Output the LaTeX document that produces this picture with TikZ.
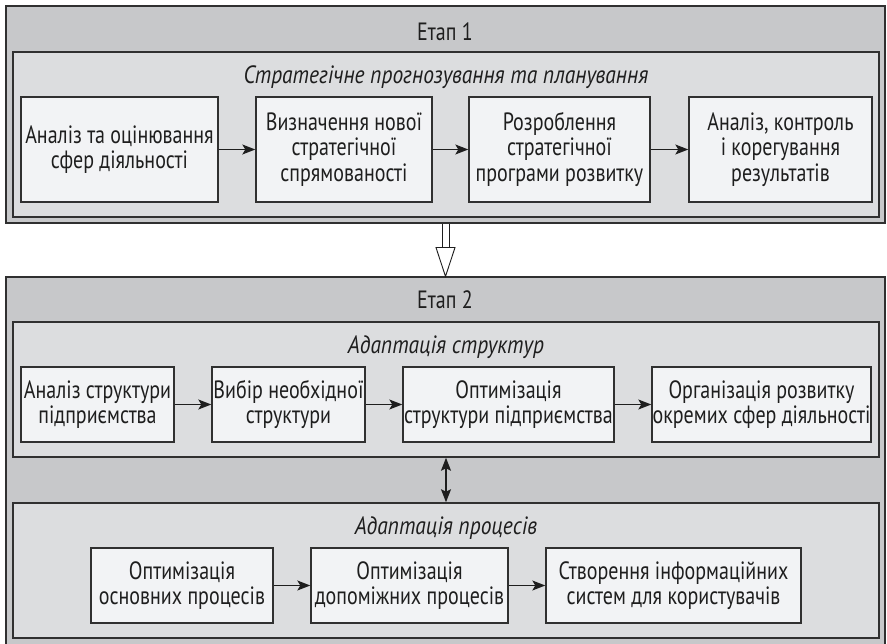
\documentclass[tikz,border=0pt]{standalone}
\usepackage{fontspec}
\setmainfont[FakeStretch=0.8, ItalicFeatures={FakeStretch=0.86}]{PT Sans}
\usetikzlibrary{arrows.meta,calc}

\definecolor{stagefill}{HTML}{C7C8CA}
\definecolor{groupfill}{HTML}{DCDDDF}
\definecolor{stepfill}{HTML}{F2F3F5}
\definecolor{edge}{HTML}{303030}
\definecolor{ink}{HTML}{1E1E1E}

\tikzset{
  stage/.style={draw=edge, line width=1.1pt, fill=stagefill, inner sep=0pt},
  group/.style={draw=edge, line width=1.5pt, fill=groupfill, inner sep=0pt},
  stepbox/.style={draw=edge, line width=1.4pt, fill=stepfill, align=center,
    inner sep=0pt, text=ink, font=\fontsize{25}{25.5}\selectfont},
  heading/.style={text=ink, font=\fontsize{25}{25}\selectfont},
  subheading/.style={text=ink, font=\fontsize{25}{25}\selectfont\itshape},
  flow/.style={-{Stealth[length=13pt,width=10pt,inset=3pt]}, line width=1.2pt, draw=ink},
  link/.style={{Stealth[length=13pt,width=10pt,inset=2.5pt]}-{Stealth[length=13pt,width=10pt,inset=2.5pt]},
    line width=1.3pt, draw=ink},
}

\begin{document}
\begin{tikzpicture}[x=1pt,y=-1pt]
\useasboundingbox (0,0) rectangle (887,644);

% Stage 1
\node[stage, minimum width=879pt, minimum height=217pt] (e1) at (445.5,114.5) {};
\node[heading] (e1t) at (445,32) {Етап 1};
\node[group, minimum width=866pt, minimum height=165pt] (g1) at (446,134.5) {};
\node[subheading] (g1t) at (446,77) {Стратегічне прогнозування та планування};

\node[stepbox, minimum width=197pt, minimum height=105pt] (a1) at (119.5,149.5)
  {Аналіз та оцінювання\\сфер діяльності};
\node[stepbox, minimum width=176pt, minimum height=105pt] (a2) at (344,149.5)
  {Визначення нової\\стратегічної\\спрямованості};
\node[stepbox, minimum width=181pt, minimum height=105pt] (a3) at (559.5,149.5)
  {Розроблення\\стратегічної\\програми розвитку};
\node[stepbox, minimum width=183pt, minimum height=105pt] (a4) at (780.5,149.5)
  {Аналіз, контроль\\і корегування\\результатів};

\draw[flow] (a1) -- (a2);
\draw[flow] (a2) -- (a3);
\draw[flow] (a3) -- (a4);

% Stage 2
\node[stage, minimum width=879pt, minimum height=372pt] (e2) at (445.5,463) {};
\node[heading] (e2t) at (445,300) {Етап 2};

\node[group, minimum width=866pt, minimum height=135pt] (g2) at (446,389.5) {};
\node[subheading] (g2t) at (446,347) {Адаптація структур};

\node[stepbox, minimum width=153pt, minimum height=75pt] (b1) at (97.5,404.5)
  {Аналіз структури\\підприємства};
\node[stepbox, minimum width=153pt, minimum height=75pt] (b2) at (288.5,404.5)
  {Вибір необхідної\\структури};
\node[stepbox, minimum width=211pt, minimum height=75pt] (b3) at (508.5,404.5)
  {Оптимізація\\структури підприємства};
\node[stepbox, minimum width=219pt, minimum height=75pt] (b4) at (761.5,404.5)
  {Організація розвитку\\окремих сфер діяльності};

\draw[flow] (b1) -- (b2);
\draw[flow] (b2) -- (b3);
\draw[flow] (b3) -- (b4);

\node[group, minimum width=866pt, minimum height=135pt] (g3) at (446,570.5) {};
\node[subheading] (g3t) at (446,528) {Адаптація процесів};

\node[stepbox, minimum width=182pt, minimum height=75pt] (c1) at (182,585.5)
  {Оптимізація\\основних процесів};
\node[stepbox, minimum width=197pt, minimum height=75pt] (c2) at (409.5,585.5)
  {Оптимізація\\допоміжних процесів};
\node[stepbox, minimum width=255pt, minimum height=75pt] (c3) at (673.5,585.5)
  {Створення інформаційних\\систем для користувачів};

\draw[flow] (c1) -- (c2);
\draw[flow] (c2) -- (c3);

% two-way link between the groups of stage 2
\draw[link] (g2.south) -- (g3.north);

% hollow transition arrow from stage 1 to stage 2
\coordinate (t0) at (e1.south);
\coordinate (t1) at (e2.north);
\draw[line width=0.9pt, draw=ink] ($(t0)+(-3.5,0)$) -- ($(t0)+(-3.5,24)$);
\draw[line width=0.9pt, draw=ink] ($(t0)+(3.5,0)$) -- ($(t0)+(3.5,24)$);
\draw[line width=0.9pt, draw=ink, fill=white, line join=miter]
  ($(t0)+(-9.5,24)$) -- ($(t0)+(9.5,24)$) -- (t1) -- cycle;
\end{tikzpicture}
\end{document}
